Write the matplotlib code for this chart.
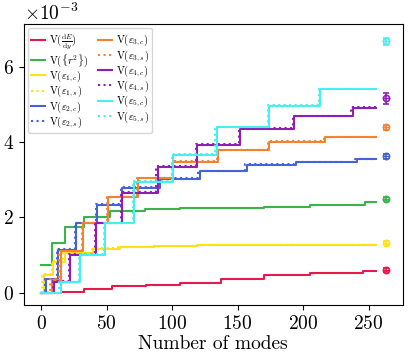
import numpy as np
import matplotlib
matplotlib.use('Agg')
import matplotlib.pyplot as plt

plt.rcParams['font.family'] = 'serif'
plt.rcParams['font.serif'] = ['cmr10', 'DejaVu Serif']
plt.rcParams['mathtext.fontset'] = 'cm'
plt.rcParams['axes.unicode_minus'] = False
plt.rcParams['axes.formatter.use_mathtext'] = True

# step positions (mode number) and variances in units of 1e-3
red_n = [0, 15, 33, 54, 80, 106, 137, 170, 205, 246, 256]
red_c = [0.0, 0.03, 0.10, 0.17, 0.21, 0.27, 0.36, 0.48, 0.54, 0.58, 0.58]

green_n = [0, 8, 18, 33, 53, 79, 106, 170, 205, 247, 256]
green_c = [0.75, 1.33, 1.74, 2.02, 2.17, 2.23, 2.25, 2.27, 2.33, 2.40, 2.40]

yel_n = [0, 2, 9, 18, 40, 60, 86, 119, 195, 256]
yel_c = [0.0, 0.48, 0.83, 1.05, 1.17, 1.21, 1.25, 1.27, 1.28, 1.28]
yel_s = [0.0, 0.50, 0.85, 1.06, 1.18, 1.22, 1.25, 1.27, 1.28, 1.28]
yel_sn = [0, 1, 8, 17, 39, 59, 85, 118, 194, 256]

blue_n = [0, 4, 13, 27, 43, 62, 91, 121, 157, 195, 241, 256]
blue_c = [0.0, 0.36, 1.14, 1.85, 2.33, 2.78, 3.02, 3.22, 3.40, 3.47, 3.55, 3.55]
blue_sn = [0, 3, 12, 26, 42, 61, 90, 120, 156, 194, 240, 256]
blue_s = [0.0, 0.38, 1.16, 1.86, 2.35, 2.80, 3.04, 3.23, 3.41, 3.48, 3.56, 3.56]

orng_n = [0, 8, 15, 32, 51, 74, 101, 135, 174, 217, 256]
orng_c = [0.0, 0.34, 1.10, 1.85, 2.53, 3.05, 3.48, 3.79, 4.01, 4.13, 4.13]
orng_sn = [0, 7, 14, 31, 50, 73, 100, 134, 173, 216, 256]
orng_s = [0.0, 0.36, 1.12, 1.86, 2.55, 3.06, 3.49, 3.80, 4.02, 4.14, 4.14]

purp_n = [0, 10, 22, 42, 62, 89, 119, 152, 193, 238, 256]
purp_c = [0.0, 0.30, 1.00, 1.85, 2.66, 3.35, 3.93, 4.36, 4.68, 4.90, 4.90]
purp_sn = [0, 9, 21, 41, 61, 88, 118, 151, 192, 237, 256]
purp_s = [0.0, 0.32, 1.02, 1.86, 2.68, 3.37, 3.95, 4.37, 4.69, 4.92, 4.92]

cyan_n = [0, 15, 30, 49, 71, 101, 134, 174, 213, 256]
cyan_c = [0.0, 0.28, 1.00, 1.85, 2.95, 3.66, 4.39, 4.96, 5.40, 5.40]
cyan_sn = [0, 14, 29, 48, 70, 100, 133, 173, 212, 256]
cyan_s = [0.0, 0.30, 1.02, 1.86, 2.97, 3.68, 4.41, 4.98, 5.41, 5.41]

# reference values at the right edge
ref_x = 263
ref_vals = [0.61, 2.49, 1.32, 3.62, 4.39, 5.16, 6.67]
ref_errs = [0.05, 0.05, 0.05, 0.07, 0.06, 0.15, 0.10]

colors = ['#e6194b', '#3cb44b', '#ffe119', '#4363d8', '#f58231', '#911eb4', '#46f0f0']

fig = plt.figure(figsize=(4.11, 3.6), dpi=100)
ax = fig.add_axes([0.058, 0.153, 0.922, 0.78])

lw = 1.5
ax.step(red_n, np.array(red_c) * 1e-3, where='post', c=colors[0], lw=lw,
        label=r'V$(\frac{{\rm d}E}{{\rm d}y})$')
ax.step(green_n, np.array(green_c) * 1e-3, where='post', c=colors[1], lw=lw,
        label=r'V$(\{r^2\})$')
ax.step(yel_n, np.array(yel_c) * 1e-3, where='post', c=colors[2], lw=lw,
        label=r'V$(\varepsilon_{1,c})$')
ax.step(yel_sn, np.array(yel_s) * 1e-3, where='post', c=colors[2], lw=lw, ls=':',
        label=r'V$(\varepsilon_{1,s})$')
ax.step(blue_n, np.array(blue_c) * 1e-3, where='post', c=colors[3], lw=lw,
        label=r'V$(\varepsilon_{2,c})$')
ax.step(blue_sn, np.array(blue_s) * 1e-3, where='post', c=colors[3], lw=lw, ls=':',
        label=r'V$(\varepsilon_{2,s})$')
ax.step(orng_n, np.array(orng_c) * 1e-3, where='post', c=colors[4], lw=lw,
        label=r'V$(\varepsilon_{3,c})$')
ax.step(orng_sn, np.array(orng_s) * 1e-3, where='post', c=colors[4], lw=lw, ls=':',
        label=r'V$(\varepsilon_{3,s})$')
ax.step(purp_n, np.array(purp_c) * 1e-3, where='post', c=colors[5], lw=lw,
        label=r'V$(\varepsilon_{4,c})$')
ax.step(purp_sn, np.array(purp_s) * 1e-3, where='post', c=colors[5], lw=lw, ls=':',
        label=r'V$(\varepsilon_{4,s})$')
ax.step(cyan_n, np.array(cyan_c) * 1e-3, where='post', c=colors[6], lw=lw,
        label=r'V$(\varepsilon_{5,c})$')
ax.step(cyan_sn, np.array(cyan_s) * 1e-3, where='post', c=colors[6], lw=lw, ls=':',
        label=r'V$(\varepsilon_{5,s})$')

for v, e, c in zip(ref_vals, ref_errs, colors):
    ax.errorbar(ref_x, v * 1e-3, yerr=e * 1e-3, fmt='o', mfc='none', mec=c,
                ecolor=c, ms=4.5, mew=1.2, capsize=2, elinewidth=1.2)
    ax.plot(ref_x, v * 1e-3, marker='_', ms=4, mew=1.0, c=c)

ax.set_xlabel('Number of modes', fontsize=14, labelpad=2)
ax.set_xticks([0, 50, 100, 150, 200, 250])
ax.set_yticks([0, 0.002, 0.004, 0.006])
ax.set_ylim(-0.00032, 0.00713)
ax.tick_params(labelsize=14)
ax.yaxis.get_offset_text().set_fontsize(14)
ax.ticklabel_format(axis='y', style='sci', scilimits=(0, 0))

ax.legend(loc='upper left', ncol=2, fontsize=7.6, handlelength=1.3,
          labelspacing=0.0, handletextpad=0.4, columnspacing=0.9,
          borderpad=0.3, borderaxespad=0.4)

plt.savefig('out.png', dpi=100)
